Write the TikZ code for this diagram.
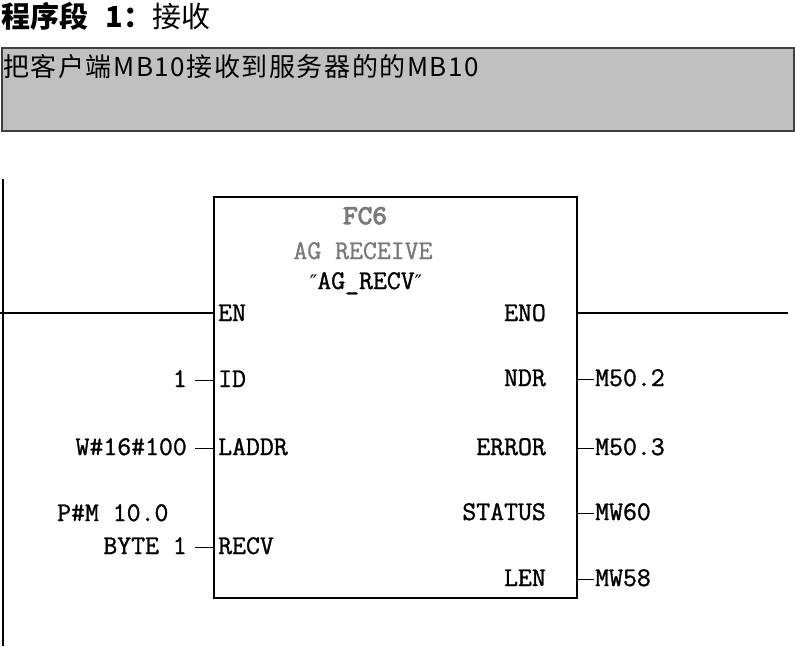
\documentclass[tikz,border=0pt]{standalone}
\usepackage{fontspec}
\newfontfamily\cjk{Noto Sans CJK SC}
\newfontfamily\dvs{DejaVu Sans}
\newfontfamily\labelfont[FakeBold=1.2]{Latin Modern Mono}
\newfontfamily\hdrfont[FakeBold=4,FakeStretch=1.05]{Latin Modern Mono}
\definecolor{cmtgray}{HTML}{C0C0C0}
\definecolor{hdrgray}{HTML}{7A7A7A}
\begin{document}
\begin{tikzpicture}[x=1pt,y=-1pt,
  lbl/.style={font=\fontsize{27}{27}\selectfont\labelfont, inner sep=0pt},
  wire/.style={line width=1.5pt, black},
  fbox/.style={draw, line width=1.5pt, inner sep=0pt, minimum width=363pt, minimum height=401pt, anchor=north west}]
\useasboundingbox (0,0) rectangle (795,646);
% title
\node[anchor=base west, inner sep=0pt, font=\fontsize{29}{29}\selectfont\cjk] (title) at (1,27) {\textbf{程序段\hspace{0.6em}1：}接收};
% comment box
\draw[line width=1.5pt, draw=black!75, fill=cmtgray] (2,48) rectangle (794,131);
\node[anchor=base west, inner sep=0pt, font=\fontsize{26}{26}\selectfont\cjk\addfontfeature{LetterSpace=6}] (cmt) at (3,76) {把客户端MB10接收到服务器的的MB10};
% left rail
\coordinate (railTop) at (3,179);
\coordinate (railBot) at (3,646);
\draw[wire] (railTop) -- (railBot);
% function box
\node[fbox] (fb) at (213,196) {};
\node[anchor=base, inner sep=0pt, text=hdrgray] (fc) at (365,224) {\fontsize{27}{27}\selectfont\hdrfont FC6};
\node[lbl, anchor=base, text=hdrgray] (fname) at (363,259) {AG RECEIVE};
\node[lbl, anchor=base] (sym) at (366,289) {{\dvs\fontsize{20}{20}\selectfont ″}AG\_RECV{\dvs\fontsize{20}{20}\selectfont ″}};
% EN / ENO
\coordinate (enL) at (0,313);
\coordinate (enoR) at (788,313);
\draw[wire] (enL) -- (enL -| fb.west);
\draw[wire] (enoR -| fb.east) -- (enoR);
\node[lbl, anchor=base west] (pEN) at (218,321) {EN};
\node[lbl, anchor=base east] (pENO) at (546,321) {ENO};
% input pins
\node[lbl, anchor=base west] (pID) at (218,387) {ID};
\node[lbl, anchor=base west] (pLADDR) at (218,455) {LADDR};
\node[lbl, anchor=base west] (pRECV) at (218,554) {RECV};
\node[lbl, anchor=base east] (vID) at (187,387) {1};
\node[lbl, anchor=base east] (vLADDR) at (187,455) {W\#16\#100};
\node[lbl, anchor=base west] (vRECVa) at (57,521) {P\#M 10.0};
\node[lbl, anchor=base east] (vRECV) at (187,554) {BYTE 1};
\foreach \v in {vID,vLADDR,vRECV}
  \draw[wire] ([xshift=8pt,yshift=6.5pt]\v.base east) -- ([yshift=6.5pt]\v.base east -| fb.west);
% output pins
\node[lbl, anchor=base east] (pNDR) at (546,386) {NDR};
\node[lbl, anchor=base east] (pERR) at (546,455) {ERROR};
\node[lbl, anchor=base east] (pSTAT) at (546,520) {STATUS};
\node[lbl, anchor=base east] (pLEN) at (546,586) {LEN};
\node[lbl, anchor=base west] (oNDR) at (595,386) {M50.2};
\node[lbl, anchor=base west] (oERR) at (595,455) {M50.3};
\node[lbl, anchor=base west] (oSTAT) at (595,520) {MW60};
\node[lbl, anchor=base west] (oLEN) at (595,586) {MW58};
\foreach \o in {oNDR,oERR,oSTAT,oLEN}
  \draw[wire] ([yshift=6.5pt]\o.base west -| fb.east) -- ([xshift=-1pt,yshift=6.5pt]\o.base west);
\end{tikzpicture}
\end{document}
